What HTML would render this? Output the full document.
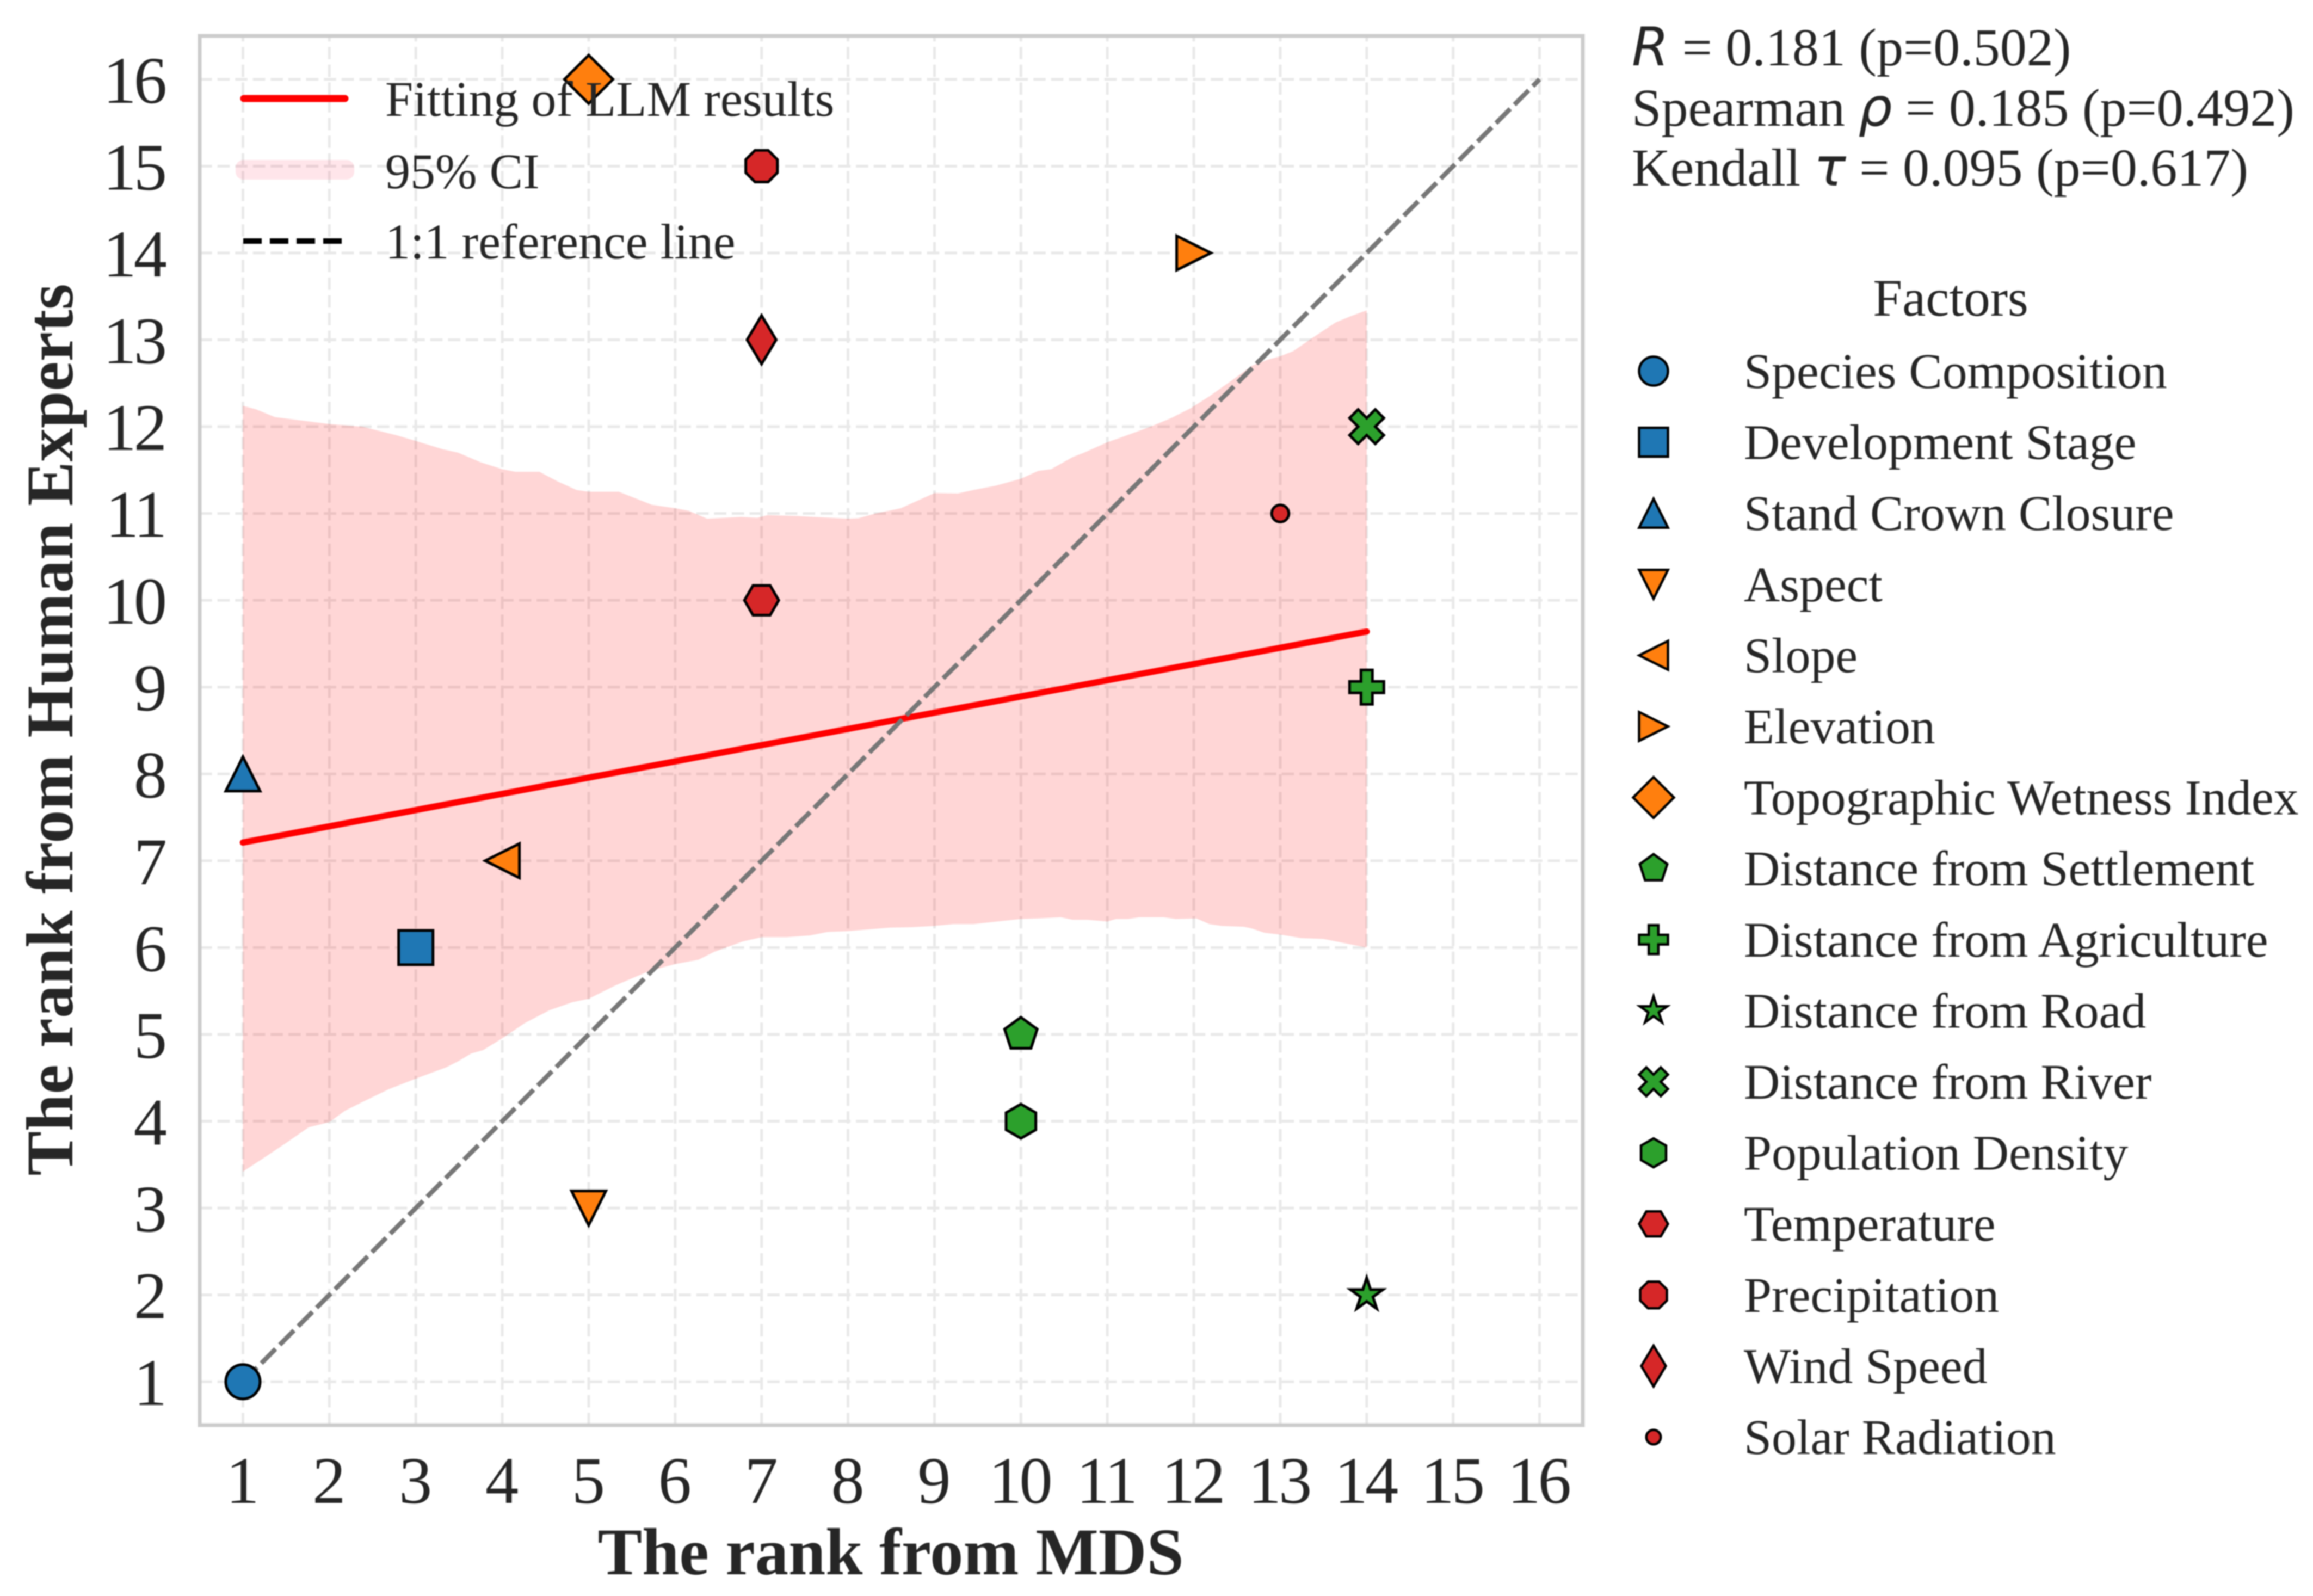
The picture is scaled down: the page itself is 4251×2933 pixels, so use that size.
<!DOCTYPE html>
<html lang="en">
<head>
<meta charset="utf-8">
<title>Rank comparison of MDS and Human Experts</title>
<style>
html,body{margin:0;padding:0;background:#fff;}
svg{display:block;filter:blur(1px);}
text{font-family:"Liberation Serif",serif;fill:#262626;text-rendering:geometricPrecision;}
.math{font-family:"DejaVu Sans",sans-serif;font-style:italic;}
</style>
</head>
<body>
<svg id="chart" xmlns="http://www.w3.org/2000/svg" width="4251" height="2933" viewBox="0 0 4251 2933">
  <rect x="0" y="0" width="4251" height="2933" fill="#ffffff"/>
  <g id="grid"></g>
  <path id="band" fill="#ff0000" fill-opacity="0.16"></path>
  <line id="fit" stroke="#ff0000" stroke-width="11.5" stroke-linecap="round"></line>
  <line id="ref" stroke="#777777" stroke-width="8.5" stroke-dasharray="37 11"></line>
  <rect x="367" y="66" width="2542" height="2553" fill="none" stroke="#cccccc" stroke-width="7"></rect>
  <g id="xticks"></g>
  <g id="yticks"></g>
  <g id="points"></g>

  <g>
    <line x1="448" y1="181" x2="634" y2="181" stroke="#ff0000" stroke-width="13" stroke-linecap="round"></line>
    <text x="708" y="213" font-size="92">Fitting of LLM results</text>
    <rect x="433" y="294" width="218" height="36" rx="14" fill="#ff0030" fill-opacity="0.1"></rect>
    <text x="708" y="346" font-size="92">95% CI</text>
    <line x1="447" y1="443" x2="631" y2="443" stroke="#000000" stroke-width="10" stroke-dasharray="34 15"></line>
    <text x="708" y="475" font-size="92">1:1 reference line</text>
  </g>

  <text x="1637" y="2893" font-size="122.6" font-weight="bold" text-anchor="middle">The rank from MDS</text>
  <text transform="translate(133,1341) rotate(-90)" font-size="122.6" font-weight="bold" text-anchor="middle">The rank from Human Experts</text>

  <text x="2999" y="120" font-size="98"><tspan class="math">R</tspan> = 0.181 (p=0.502)</text>
  <text x="2999" y="231" font-size="98">Spearman <tspan class="math">ρ</tspan> = 0.185 (p=0.492)</text>
  <text x="2999" y="341" font-size="98">Kendall <tspan class="math">τ</tspan> = 0.095 (p=0.617)</text>

  <text x="3585" y="580" font-size="97" text-anchor="middle">Factors</text>
  <g id="legend"></g>
</svg>
<script>
// ---------- chart data ----------
const factors = ["Species Composition","Development Stage","Stand Crown Closure","Aspect","Slope","Elevation","Topographic Wetness Index","Distance from Settlement","Distance from Agriculture","Distance from Road","Distance from River","Population Density","Temperature","Precipitation","Wind Speed","Solar Radiation"];
const mdsRank = [1,3,1,5,4,12,5,10,14,14,14,10,7,7,7,13];
const expertRank = [1,6,8,3,7,14,16,5,9,2,12,4,10,15,13,11];
const xTickLabels = [1,2,3,4,5,6,7,8,9,10,11,12,13,14,15,16];
const yTickLabels = [1,2,3,4,5,6,7,8,9,10,11,12,13,14,15,16];
const fitX = [1,14];
const fitY = [7.21,9.64];
const refX = [1,16];
const refY = [1,16];
const ciUpperX = [1,1.15,1.37,2,2.38,2.78,3,3.31,3.49,3.75,4,4.15,4.43,4.64,4.86,5,5.35,5.73,6,6.16,6.37,6.76,6.95,7.07,7.42,7.6,8,8.12,8.32,8.61,9,9.27,9.45,9.71,10,10.2,10.35,10.6,10.73,11,11.17,11.5,11.74,11.96,12.18,12.45,12.67,12.85,13,13.15,13.37,13.64,13.81,14];
const ciUpperY = [12.24,12.2,12.11,12.03,12,11.9,11.835,11.74,11.7,11.59,11.51,11.48,11.48,11.37,11.27,11.25,11.25,11.1,11.06,11.03,10.94,10.96,10.95,10.98,10.97,10.96,10.94,10.945,11,11.06,11.235,11.23,11.27,11.32,11.4,11.49,11.51,11.65,11.7,11.82,11.88,12,12.1,12.21,12.35,12.54,12.7,12.77,12.81,12.87,13.02,13.2,13.27,13.34];
const ciLowerX = [1,1.23,1.5,1.76,2,2.18,2.38,2.69,3,3.35,3.49,3.64,3.78,4,4.26,4.55,4.81,5,5.3,5.7,6,6.27,6.45,6.78,7,7.29,7.56,7.76,8,8.48,8.74,9,9.22,9.45,10,10.2,10.46,10.6,10.77,11,11.1,11.24,11.37,11.65,11.79,12.03,12.18,12.32,12.58,12.67,12.82,13,13.24,13.5,14];
const ciLowerY = [3.42,3.57,3.75,3.93,3.99,4.12,4.22,4.37,4.49,4.62,4.69,4.78,4.82,4.955,5.13,5.28,5.37,5.41,5.56,5.73,5.81,5.86,5.95,6.07,6.12,6.12,6.14,6.18,6.19,6.23,6.235,6.25,6.27,6.27,6.33,6.336,6.35,6.32,6.32,6.3,6.33,6.33,6.35,6.35,6.33,6.336,6.27,6.25,6.24,6.22,6.17,6.15,6.11,6.1,6];

// ---------- marker styling ----------
const markerKinds = ["o","s","^","v","<",">","D","p","P","*","X","h","H","8","d","."];
const markerFills = ["#1f77b4","#1f77b4","#1f77b4","#ff7f0e","#ff7f0e","#ff7f0e","#ff7f0e","#2ca02c","#2ca02c","#2ca02c","#2ca02c","#2ca02c","#d62728","#d62728","#d62728","#d62728"];

// ---------- axis functions ----------
const NS = "http://www.w3.org/2000/svg";
const plotLeft = 367, plotRight = 2909, plotTop = 66, plotBottom = 2619;
const domainMin = 0.5, domainMax = 16.5;
function sx(v){ return plotLeft + (v - domainMin) * (plotRight - plotLeft) / (domainMax - domainMin); }
function sy(v){ return plotBottom - (v - domainMin) * (plotBottom - plotTop) / (domainMax - domainMin); }

function make(tag, attrs, parent){
  const el = document.createElementNS(NS, tag);
  for (const k in attrs) el.setAttribute(k, attrs[k]);
  parent.appendChild(el);
  return el;
}
function polygonPoints(kind){
  const reg = (n, rot) => Array.from({length:n}, (_, i) => {
    const a = rot + i * 2 * Math.PI / n;
    return [Math.sin(a), Math.cos(a)];
  });
  const q = Math.SQRT2, t = 1/3;
  switch (kind) {
    case "s": return [[-1,-1],[1,-1],[1,1],[-1,1]];
    case "^": return [[0,1],[-1,-1],[1,-1]];
    case "v": return [[0,-1],[-1,1],[1,1]];
    case "<": return [[-1,0],[1,1],[1,-1]];
    case ">": return [[1,0],[-1,1],[-1,-1]];
    case "D": return [[0,q],[q,0],[0,-q],[-q,0]];
    case "d": return [[0,q],[q*0.6,0],[0,-q],[-q*0.6,0]];
    case "p": return reg(5, 0);
    case "h": return reg(6, 0);
    case "H": return reg(6, Math.PI / 6);
    case "8": return reg(8, Math.PI / 8);
    case "P": return [[-t,1],[t,1],[t,t],[1,t],[1,-t],[t,-t],[t,-1],[-t,-1],[-t,-t],[-1,-t],[-1,t],[-t,t]];
    case "X": return [[-.5,-1],[0,-.5],[.5,-1],[1,-.5],[.5,0],[1,.5],[.5,1],[0,.5],[-.5,1],[-1,.5],[-.5,0],[-1,-.5]];
    case "*": {
      const out = [];
      for (let i = 0; i < 10; i++) {
        const a = i * Math.PI / 5, r = i % 2 ? 0.381966 : 1;
        out.push([r * Math.sin(a), r * Math.cos(a)]);
      }
      return out;
    }
  }
  return null;
}
function drawMarker(parent, kind, fill, cx, cy, size, sw){
  const r = size / 2;
  const style = {fill: fill, stroke: "#000000", "stroke-width": sw, "stroke-linejoin": "miter", "stroke-miterlimit": 10};
  if (kind === "o" || kind === ".") {
    return make("circle", Object.assign({cx: cx, cy: cy, r: kind === "." ? r * 0.5 : r}, style), parent);
  }
  const pts = polygonPoints(kind).map(p => (cx + p[0] * r).toFixed(2) + "," + (cy - p[1] * r).toFixed(2)).join(" ");
  return make("polygon", Object.assign({points: pts}, style), parent);
}

// ---------- grid ----------
const gridG = document.getElementById("grid");
xTickLabels.forEach(v => {
  const ln = make("line", {x1: sx(v), x2: sx(v), y1: plotBottom, y2: plotTop, stroke: "#e9e9e9", "stroke-width": 5, "stroke-dasharray": "22.6 10"}, gridG);
  
  
});
yTickLabels.forEach(v => {
  const ln = make("line", {x1: plotLeft, x2: plotRight, y1: sy(v), y2: sy(v), stroke: "#e9e9e9", "stroke-width": 5, "stroke-dasharray": "22.6 10"}, gridG);
  
  
});

// ---------- CI band ----------
let bandPath = "M" + ciUpperX.map((x, i) => sx(x).toFixed(1) + " " + sy(ciUpperY[i]).toFixed(1)).join("L");
for (let i = ciLowerX.length - 1; i >= 0; i--) {
  bandPath += "L" + sx(ciLowerX[i]).toFixed(1) + " " + sy(ciLowerY[i]).toFixed(1);
}
document.getElementById("band").setAttribute("d", bandPath + "Z");

// ---------- lines ----------
const fitEl = document.getElementById("fit");
fitEl.setAttribute("x1", sx(fitX[0]));
fitEl.setAttribute("y1", sy(fitY[0]));
fitEl.setAttribute("x2", sx(fitX[1]));
fitEl.setAttribute("y2", sy(fitY[1]));
const refEl = document.getElementById("ref");
refEl.setAttribute("x1", sx(refX[0]));
refEl.setAttribute("y1", sy(refY[0]));
refEl.setAttribute("x2", sx(refX[1]));
refEl.setAttribute("y2", sy(refY[1]));

// ---------- tick labels ----------
const xTicksG = document.getElementById("xticks");
xTickLabels.forEach(v => {
  const t = make("text", {x: sx(v) - 3, y: 2762, "font-size": 122.6, "text-anchor": "middle", "letter-spacing": -5}, xTicksG);
  t.textContent = v;
  
  
});
const yTicksG = document.getElementById("yticks");
yTickLabels.forEach(v => {
  const t = make("text", {x: 302, y: sy(v) + 43, "font-size": 122.6, "text-anchor": "end", "letter-spacing": -5}, yTicksG);
  t.textContent = v;
  
  
});

// ---------- points ----------
const pointsG = document.getElementById("points");
factors.forEach((name, i) => {
  const m = drawMarker(pointsG, markerKinds[i], markerFills[i], sx(mdsRank[i]), sy(expertRank[i]), 63, 5);
  
  
});

// ---------- factors legend ----------
const legendG = document.getElementById("legend");
factors.forEach((name, i) => {
  const row = make("g", {}, legendG);
  
  
  const key = drawMarker(row, markerKinds[i], markerFills[i], 3039, 682 + i * 130.6, 53, 4.5);
  
  
  const label = make("text", {x: 3205, y: 713 + i * 130.6, "font-size": 91.8}, row);
  label.textContent = name;
  
  
});
</script>
</body>
</html>
